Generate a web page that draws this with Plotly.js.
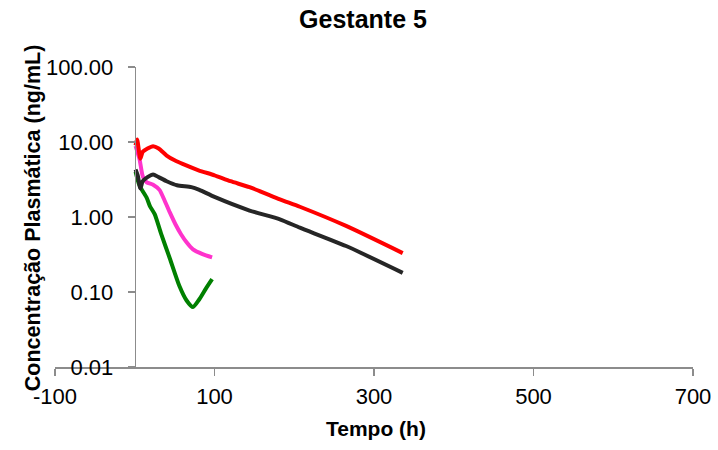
<!DOCTYPE html>
<html>
<head>
<meta charset="utf-8">
<script src="https://cdn.plot.ly/plotly-3.0.1.min.js"></script>
<style>
  html, body { margin: 0; padding: 0; background: #ffffff; }
  #chart { width: 718px; height: 450px; }
</style>
</head>
<body>
<div id="chart"></div>
<script>
// Plasma concentration profiles (ng/mL) over time (h), log scale
const chartTitle = 'Gestante 5';
const xTitle = 'Tempo (h)';
const yTitle = 'Concentração Plasmática (ng/mL)';

const xTickVals = [-100, 100, 300, 500, 700];
const xTickText = ['-100', '100', '300', '500', '700'];
const yTickVals = [0.01, 0.1, 1, 10, 100];
const yTickText = ['0.01', '0.10', '1.00', '10.00', '100.00'];

const redTime = [1, 3, 7, 10, 16, 23, 30, 40, 50, 60, 80, 100, 120, 144, 182, 207, 265, 336];
const redConc = [9.0, 10.8, 6.0, 7.4, 8.2, 8.8, 8.2, 6.6, 5.7, 5.1, 4.2, 3.6, 3.0, 2.5, 1.72, 1.37, 0.76, 0.33];

const blackTime = [1, 4, 7, 10, 16, 23, 30, 40, 53, 71, 81, 100, 144, 182, 207, 265, 336];
const blackConc = [4.3, 3.5, 2.4, 3.0, 3.4, 3.7, 3.4, 3.0, 2.65, 2.5, 2.3, 1.85, 1.22, 0.93, 0.72, 0.41, 0.18];

const pinkTime = [1, 6, 10, 15, 23, 31, 37, 44, 51, 58, 65, 73, 85, 97];
const pinkConc = [8.9, 5.9, 3.5, 2.9, 2.7, 2.3, 1.7, 1.15, 0.8, 0.59, 0.46, 0.37, 0.32, 0.29];

const greenTime = [1, 5, 9, 15, 19, 25, 33, 44, 56, 65, 73, 81, 89, 97];
const greenConc = [4.0, 2.8, 2.3, 1.8, 1.4, 1.09, 0.6, 0.28, 0.12, 0.077, 0.063, 0.08, 0.11, 0.148];

const fontFamily = 'Liberation Sans, Arial, sans-serif';
const axisGray = '#8c8c8c';

function series(x, y, color) {
  return {
    x: x, y: y, type: 'scatter', mode: 'lines',
    line: { color: color, width: 4, shape: 'spline', smoothing: 0.6 },
    hoverinfo: 'x+y', showlegend: false
  };
}

const data = [
  series(greenTime, greenConc, '#008000'),
  series(pinkTime, pinkConc, '#ff33cc'),
  series(blackTime, blackConc, '#262626'),
  series(redTime, redConc, '#ff0000')
];

const layout = {
  width: 718, height: 450,
  margin: { l: 55, r: 25, t: 67, b: 83 },
  paper_bgcolor: '#ffffff', plot_bgcolor: '#ffffff',
  font: { family: fontFamily, color: '#000000' },
  showlegend: false,
  title: {
    text: '<b>' + chartTitle + '</b>',
    font: { family: fontFamily, size: 25, color: '#000000' },
    xref: 'container', x: 0.5056, xanchor: 'center',
    yref: 'container', y: 0.958, yanchor: 'middle'
  },
  xaxis: {
    range: [-100, 700], domain: [0, 1],
    tickmode: 'array', tickvals: xTickVals, ticktext: xTickText,
    ticks: 'outside', ticklen: 7, tickwidth: 1.5, tickcolor: axisGray,
    showline: true, linecolor: axisGray, linewidth: 1.5,
    showgrid: false, zeroline: false,
    tickfont: { family: fontFamily, size: 22, color: '#000000' },
    ticklabelstandoff: 2
  },
  yaxis: {
    type: 'log', range: [-2, 2],
    anchor: 'free', position: 0.125,
    tickmode: 'array', tickvals: yTickVals, ticktext: yTickText,
    ticks: 'outside', ticklen: 7, tickwidth: 1.5, tickcolor: axisGray,
    showline: true, linecolor: axisGray, linewidth: 1.5,
    showgrid: false, zeroline: false,
    tickfont: { family: fontFamily, size: 22, color: '#000000' },
    ticklabelstandoff: 10
  },
  annotations: [
    {
      text: '<b>' + xTitle + '</b>', showarrow: false,
      xref: 'paper', yref: 'paper', x: 0.503, y: -0.205,
      xanchor: 'center', yanchor: 'middle',
      font: { family: fontFamily, size: 21, color: '#000000' }
    },
    {
      text: '<b>' + yTitle + '</b>', showarrow: false, textangle: -90,
      xref: 'paper', yref: 'paper', x: -0.0345, y: 0.496,
      xanchor: 'center', yanchor: 'middle',
      font: { family: fontFamily, size: 21.5, color: '#000000' }
    }
  ]
};

Plotly.newPlot('chart', data, layout, { staticPlot: true, displayModeBar: false });
</script>
</body>
</html>
